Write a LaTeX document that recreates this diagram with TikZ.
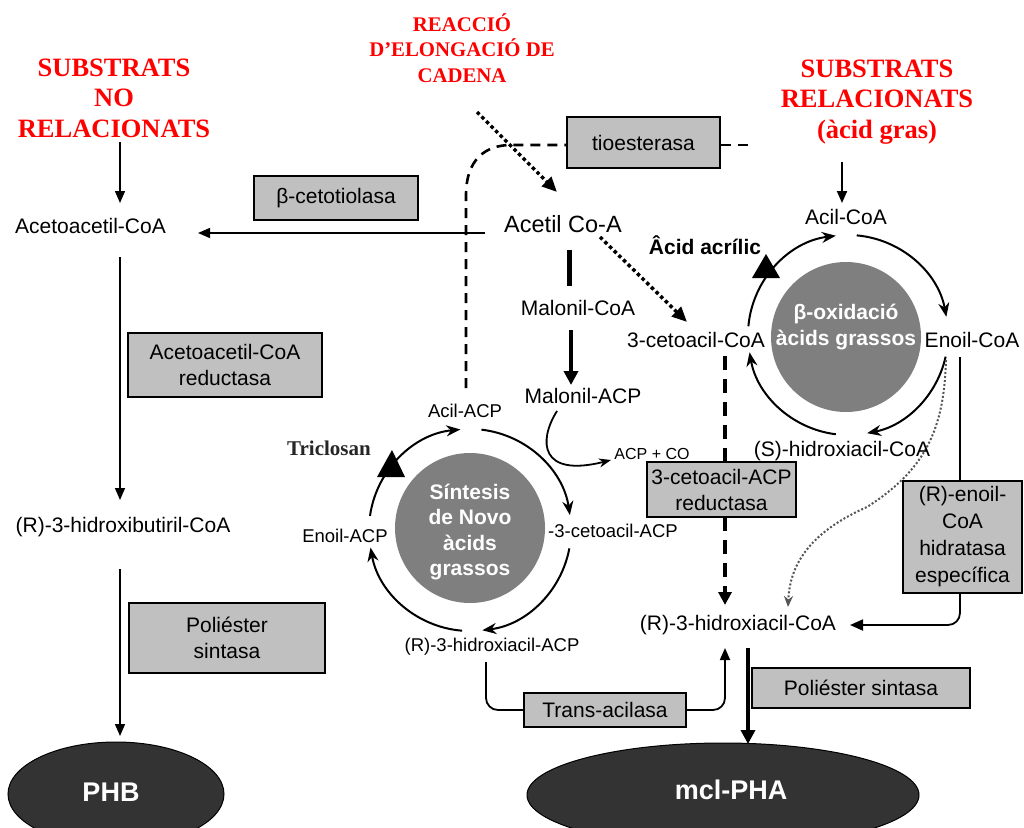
\documentclass[tikz,border=0pt]{standalone}
\usepackage{fontspec}
\setmainfont{Liberation Sans}
\newfontfamily\tnr{Liberation Serif}
\usetikzlibrary{arrows.meta,calc,shapes.geometric}
\definecolor{boxgray}{HTML}{C0C0C0}
\definecolor{circgray}{HTML}{7F7F7F}
\definecolor{ellgray}{HTML}{333333}
\definecolor{titlered}{HTML}{FF0000}
\definecolor{dotgray}{HTML}{555555}
\pgfdeclarelayer{paper}
\pgfdeclarelayer{lines}
\pgfsetlayers{paper,lines,main}
\begin{document}
\begin{tikzpicture}[x=1pt,y=-1pt,
 txt/.style={inner sep=0pt,font=\fontsize{21}{25}\selectfont},
 sm/.style={inner sep=0pt,font=\fontsize{18.5}{22}\selectfont},
 bld/.style={inner sep=0pt,font=\bfseries\fontsize{21}{26}\selectfont},
 wht/.style={inner sep=0pt,text=white,align=center,font=\bfseries\fontsize{21}{25.5}\selectfont},
 title/.style={inner sep=0pt,text=titlered,align=center,font=\tnr\bfseries\fontsize{26.5}{30.5}\selectfont},
 enz/.style={draw=black,line width=1.6pt,fill=boxgray,inner sep=0pt,align=center,font=\fontsize{21}{26}\selectfont},
 disk/.style={circle,fill=circgray,inner sep=0pt,minimum size=150pt},
 prod/.style={ellipse,draw=black,line width=1pt,fill=ellgray,inner sep=0pt,text=white,font=\bfseries\fontsize{27}{30}\selectfont},
 conn/.style={line width=1.5pt},
 tip/.style={-{Triangle[length=12pt,width=10pt]}},
 ring/.style={line width=2pt,-{Stealth[length=14pt,width=11pt]}},
 thickarr/.style={line width=4.5pt,-{Triangle[length=14pt,width=14pt]}},
 dotarr/.style={line width=3.5pt,dash pattern=on 3.5pt off 3pt,-{Triangle[length=15pt,width=13pt]}},
 tdash/.style={line width=2.6pt,dash pattern=on 10pt off 7pt},
 bigdash/.style={line width=4.5pt,dash pattern=on 14pt off 9pt,-{Triangle[length=13pt,width=13pt]}},
 graydot/.style={line width=2pt,draw=dotgray,dash pattern=on 2pt off 2pt,-{Stealth[length=11pt,width=9pt]}},
 inhib/.style={fill=black}
]
\useasboundingbox (0,0) rectangle (1024,827);
\begin{pgfonlayer}{paper}
\fill[white] (0,0) rectangle (1024,827);
\end{pgfonlayer}

% ---------- titles ----------
\node[title] (subnr) at (114,98) {SUBSTRATS\\NO\\RELACIONATS};
\node[title,font=\tnr\bfseries\fontsize{20.8}{25.5}\selectfont] (elong) at (462,48) {REACCIÓ\\D’ELONGACIÓ DE\\CADENA};
\node[title] (subrel) at (877,102) {SUBSTRATS\\RELACIONATS\\(àcid gras)};

% ---------- enzyme boxes ----------
\node[enz,minimum width=164pt,minimum height=44pt] (bct) at (336,198) {β-cetotiolasa};
\node[enz,minimum width=153pt,minimum height=51pt] (tio) at (643.5,142.5) {tioesterasa};
\node[enz,minimum width=194pt,minimum height=64pt] (aared) at (225,365) {Acetoacetil-CoA\\reductasa};
\node[enz,minimum width=196pt,minimum height=70pt] (pol1) at (227,638) {Poliéster\\sintasa};
\node[enz,minimum width=149pt,minimum height=55pt] (cred) at (721.5,489.5) {3-cetoacil-ACP\\reductasa};
\node[enz,minimum width=119pt,minimum height=112pt,font=\fontsize{21}{27}\selectfont] (rhyd) at (962.5,537) {(R)-enoil-\\CoA\\hidratasa\\específica};
\node[enz,minimum width=162pt,minimum height=34pt] (trans) at (605,710) {Trans-acilasa};
\node[enz,minimum width=218pt,minimum height=40pt] (pol2) at (861,688) {Poliéster sintasa};

% ---------- circles ----------
\node[disk] (bcirc) at (846,337) {};
\node[wht] (btxt) at (846,327) {β-oxidació\\àcids grassos};
\node[disk] (scirc) at (470,528) {};
\node[wht] (stxt) at (470,532) {Síntesis\\de Novo\\àcids\\grassos};

% ---------- products ----------
\node[prod,minimum width=216pt,minimum height=104pt] (phb) at (116,794) {};
\node[inner sep=0pt,text=white,font=\bfseries\fontsize{27}{30}\selectfont] (phbt) at (111,792) {PHB};
\node[prod,minimum width=392pt,minimum height=104pt] (mcl) at (723,795) {};
\node[inner sep=0pt,text=white,font=\bfseries\fontsize{27}{30}\selectfont] (mclt) at (731,790) {mcl-PHA};

% ---------- metabolites ----------
\node[txt] (aacoa) at (90.5,226) {Acetoacetil-CoA};
\node[txt] (rhb) at (123,527) {(R)-3-hidroxibutiril-CoA};
\node[txt,font=\fontsize{23.5}{27}\selectfont] (acetil) at (563,224) {Acetil Co-A};
\node[txt] (malcoa) at (578,308) {Malonil-CoA};
\node[txt] (malacp) at (583,396) {Malonil-ACP};
\node[txt] (cetocoa) at (696,340) {3-cetoacil-CoA};
\node[txt] (acilcoa) at (846,217) {Acil-CoA};
\node[txt] (enoilcoa) at (972,340) {Enoil-CoA};
\node[txt] (shcoa) at (842,451) {(S)-hidroxiacil-CoA};
\node[bld] (acril) at (705,245) {Âcid acrílic};
\node[sm] (acilacp) at (465,411) {Acil-ACP};
\node[sm] (cetoacp) at (613,531) {-3-cetoacil-ACP};
\node[sm] (enoilacp) at (345,536) {Enoil-ACP};
\node[sm] (rhacp) at (492,647) {(R)-3-hidroxiacil-ACP};
\node[inner sep=0pt,font=\fontsize{16}{19}\selectfont] (acpco) at (652,454) {ACP + CO};
\node[inner sep=0pt,font=\tnr\bfseries\fontsize{21}{24}\selectfont,text=black!85] (tricl) at (329,448) {Triclosan};
\node[txt] (rhcoa) at (738,625) {(R)-3-hidroxiacil-CoA};

% ---------- coordinates ----------
\coordinate (R) at (848,335);
\coordinate (L) at (470,530);

\begin{pgfonlayer}{lines}
% ---------- left column ----------
\draw[conn,tip] (120,142) -- (120,203);
\draw[conn,tip] (485,233) -- (198,233);
\draw[conn,tip] (120,257) -- (120,500);
\draw[conn,tip] (120,569) -- (120,736);

% ---------- top centre ----------
\draw[dotarr] (477,112) -- (557,192);
\draw[dotarr] (600,237) -- (687,322);
\draw[tdash] (466,388) -- (466,195) .. controls (466,160) and (485,145) .. (511,145) -- (tio.west |- 0,145);
\draw[tdash] (tio.east |- 0,145) -- (752,145);
\draw[line width=5pt] (569,250) -- (569,286);
\draw[thickarr] (571,330) -- (571,385);
\draw[line width=1.8pt,-{Stealth[length=12pt,width=9pt]}] (557,411) .. controls (538,441) and (540,478) .. (611,460);

% ---------- right cycle ----------
\draw[line width=2pt,-{Triangle[length=12pt,width=10pt]}] (842,162) -- (842,203);
\draw[ring] ($(R)+(-175:100)$) arc[start angle=-175,end angle=-97,radius=100];
\draw[ring] ($(R)+(-85:100)$) arc[start angle=-85,end angle=-10.5,radius=100];
\draw[ring] ($(R)+(12.5:100)$) arc[start angle=12.5,end angle=79,radius=100];
\draw[ring] ($(R)+(97:100)$) arc[start angle=97,end angle=170,radius=100];
\fill[inhib] (752,278) -- (766,254) -- (780,278) -- cycle;

% ---------- left cycle ----------
\draw[ring] ($(L)+(-172:101)$) arc[start angle=-172,end angle=-95.5,radius=101];
\draw[ring] ($(L)+(-83.5:101)$) arc[start angle=-83.5,end angle=-8.5,radius=101];
\draw[ring] ($(L)+(10.5:101)$) arc[start angle=10.5,end angle=83,radius=101];
\draw[ring] ($(L)+(94.5:101)$) arc[start angle=94.5,end angle=170,radius=101];
\fill[inhib] (377,477) -- (392,450) -- (405,477) -- cycle;

% ---------- lower right connectors ----------
\draw[bigdash] (725,356) -- (725,605);
\draw[graydot] (946,360) .. controls (944,430) and (925,470) .. (867,507) .. controls (815,530) and (790,560) .. (788,607);
\draw[line width=1.8pt,rounded corners=12pt,-{Triangle[length=13pt,width=11pt]}] (960,357) |- (850,625);
\draw[line width=1.8pt,rounded corners=12pt] (486,662) |- (trans.west);
\draw[line width=1.8pt,rounded corners=12pt,-{Triangle[length=12pt,width=10pt]}] (trans.east) -| (725,648);
\draw[thickarr] (748,648) -- (748,744);
\end{pgfonlayer}
\end{tikzpicture}
\end{document}
